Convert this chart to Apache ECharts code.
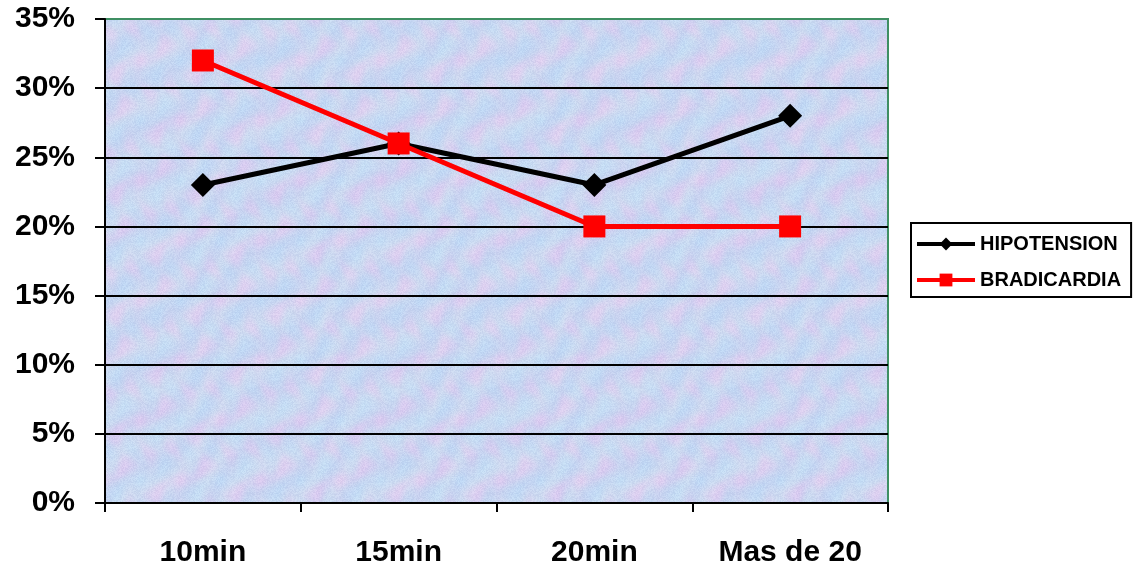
<!DOCTYPE html>
<html><head><meta charset="utf-8">
<script src="https://cdn.jsdelivr.net/npm/echarts@6/dist/echarts.min.js"></script>
<style>html,body{margin:0;padding:0;background:#fff}#c{width:1137px;height:576px}</style>
</head><body><div id="c"></div>
<script>
const categories = ['10min', '15min', '20min', 'Mas de 20'];
const hipotension = [23, 26, 23, 28];
const bradicardia = [32, 26, 20, 20];
const yTicks = [0, 5, 10, 15, 20, 25, 30, 35];

// subtle deterministic texture for plot background
function makeTexture() {
  const W = 240, H = 240;
  const c = document.createElement('canvas');
  c.width = W; c.height = H;
  const g = c.getContext('2d');
  const img = g.createImageData(W, H);
  const TP = Math.PI * 2;
  for (let y = 0; y < H; y++) {
    for (let x = 0; x < W; x++) {
      const hsh = Math.sin(x * 12.9898 + y * 78.233) * 43758.5453;
      const n = (hsh - Math.floor(hsh)) - 0.5;
      const b1 = Math.sin(TP * x / 80 + Math.sin(TP * y / 60) * 1.5) * Math.cos(TP * y / 120 + Math.sin(TP * x / 40));
      const b2 = Math.sin(TP * (x + y) / 48 + Math.cos(TP * x / 120) * 2);
      const pink = Math.max(0, b1) * 18;
      const cyan = Math.max(0, -b1) * 14;
      const i = (y * W + x) * 4;
      img.data[i] = 202 + pink - cyan * 0.6 + n * 16 + b2 * 3;
      img.data[i + 1] = 214 - pink * 0.5 + cyan * 0.3 + n * 16 + b2 * 3;
      img.data[i + 2] = 240 + n * 10 + cyan * 0.3;
      img.data[i + 3] = 255;
    }
  }
  g.putImageData(img, 0, 0);
  return c;
}

const chart = echarts.init(document.getElementById('c'));
chart.setOption({
  animation: false,
  backgroundColor: '#ffffff',
  grid: {
    left: 105, right: 249, top: 19, bottom: 73,
    show: true, backgroundColor: { image: makeTexture(), repeat: 'repeat' },
    borderColor: '#3f8f63', borderWidth: 2
  },
  legend: {
    orient: 'vertical', left: 911, top: 223,
    borderColor: '#000', borderWidth: 2,
    padding: [11, 10, 7, 4], itemGap: 16,
    itemWidth: 58, itemHeight: 16,
    lineStyle: { width: 4 },
    textStyle: { fontFamily: 'Liberation Sans', fontWeight: 'bold', fontSize: 20, color: '#000' },
    data: ['HIPOTENSION', 'BRADICARDIA']
  },
  xAxis: {
    type: 'category', data: categories, boundaryGap: true,
    axisLine: { lineStyle: { color: '#000', width: 2 } },
    axisTick: { show: true, length: 9, lineStyle: { color: '#000', width: 2 } },
    axisLabel: { margin: 35, fontFamily: 'Liberation Sans', fontWeight: 'bold', fontSize: 30, color: '#000' }
  },
  yAxis: {
    type: 'value', min: yTicks[0], max: yTicks[yTicks.length - 1], interval: 5,
    axisLine: { show: true, lineStyle: { color: '#000', width: 2 } },
    axisTick: { show: true, length: 10, lineStyle: { color: '#000', width: 2 } },
    splitLine: { show: true, lineStyle: { color: ['#000', '#000', '#000', '#000', '#000', '#000', '#000', '#3f8f63'], width: 2 } },
    axisLabel: { margin: 30, formatter: '{value}%', fontFamily: 'Liberation Sans', fontWeight: 'bold', fontSize: 30, color: '#000' }
  },
  series: [
    {
      name: 'HIPOTENSION', type: 'line', data: hipotension,
      symbol: 'diamond', symbolSize: 24,
      lineStyle: { color: '#000', width: 5 },
      itemStyle: { color: '#000' }
    },
    {
      name: 'BRADICARDIA', type: 'line', data: bradicardia,
      symbol: 'rect', symbolSize: 22,
      lineStyle: { color: '#ff0000', width: 5 },
      itemStyle: { color: '#ff0000' }
    }
  ]
});
</script></body></html>
